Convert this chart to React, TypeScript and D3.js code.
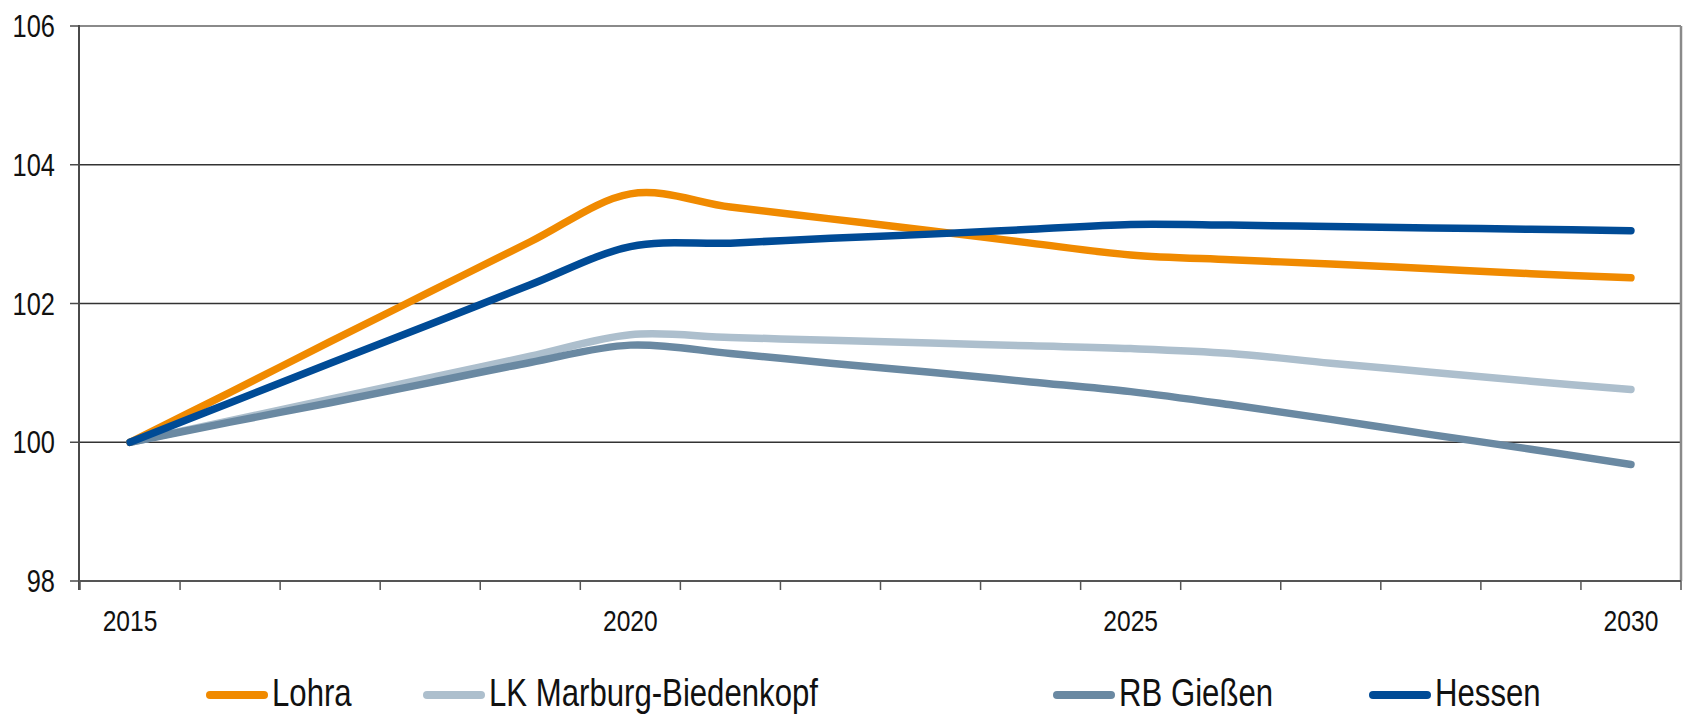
import React from 'react';
import * as d3 from 'd3';

// years on the category axis (one band per year)
const years = d3.range(2015, 2031);
const labelYears = [2015, 2020, 2025, 2030];
const yTicks = [98, 100, 102, 104, 106];

// index values (2015 = 100)
const lohra = [100, 100.72, 101.45, 102.17, 102.89, 103.58, 103.39, 103.22, 103.05, 102.87, 102.7, 102.63, 102.57, 102.5, 102.43, 102.37];
const marburg = [100, 100.31, 100.62, 100.93, 101.24, 101.55, 101.51, 101.47, 101.43, 101.39, 101.35, 101.28, 101.14, 101.01, 100.88, 100.76];
const giessen = [100, 100.29, 100.57, 100.86, 101.15, 101.4, 101.28, 101.14, 101.01, 100.87, 100.73, 100.54, 100.33, 100.11, 99.9, 99.68];
const hessen = [100, 100.57, 101.14, 101.7, 102.27, 102.82, 102.87, 102.94, 103.0, 103.07, 103.14, 103.13, 103.11, 103.09, 103.07, 103.05];

const seriesNames = ['Lohra', 'LK Marburg-Biedenkopf', 'RB Gießen', 'Hessen'];
const seriesColors = ['#F08A00', '#ADBFCD', '#6A89A2', '#004B96'];
const seriesValues = [lohra, marburg, giessen, hessen];
// draw order: Hessen on top of Lohra as in the original
const drawOrder = [1, 2, 0, 3];
const legendTextX = [272, 489, 1119, 1435];

const W = 1684;
const H = 714;
const font = "'Liberation Sans', Arial, sans-serif";
const narrow = 0.82; // fake a narrow face

const NText: React.FC<{ x: number; y: number; size: number; anchor?: string; children: React.ReactNode }> =
  ({ x, y, size, anchor = 'start', children }) => (
    <text transform={`translate(${x},${y}) scale(${narrow},1)`} fontSize={size}
      textAnchor={anchor} fill="#111">{children}</text>
  );

const App: React.FC = () => {
  const x = d3.scaleBand<number>().domain(years).range([80, 1681]).paddingInner(0).paddingOuter(0);
  const y = d3.scaleLinear().domain([98, 106]).range([581, 26]);
  const cx = (yr: number) => (x(yr) as number) + x.bandwidth() / 2;

  const line = d3.line<[number, number]>()
    .x(d => cx(d[0]))
    .y(d => y(d[1]))
    .curve(d3.curveCardinal.tension(0));

  const boundaries = years.map(yr => x(yr) as number).concat([1681]);

  return (
    <svg width={W} height={H} style={{ position: 'absolute', left: 0, top: 0, background: '#fff' }}
      fontFamily={font}>
      {/* gridlines */}
      {yTicks.filter(t => t > 98 && t < 106).map(t => (
        <line key={t} x1={80} x2={1681} y1={y(t)} y2={y(t)} stroke="#333" strokeWidth={1.3} />
      ))}
      {/* plot border top / right */}
      <line x1={80} x2={1681} y1={y(106)} y2={y(106)} stroke="#8a8a8a" strokeWidth={2} />
      <line x1={1681} x2={1681} y1={y(106)} y2={y(98)} stroke="#8a8a8a" strokeWidth={2.5} />

      {/* y axis */}
      <line x1={79} x2={79} y1={y(106) - 1} y2={y(98) + 9} stroke="#4a4a4a" strokeWidth={2} />
      {yTicks.map(t => (
        <g key={t}>
          <line x1={70} x2={79} y1={y(t)} y2={y(t)} stroke="#4a4a4a" strokeWidth={1.5} />
          <NText x={55} y={y(t) + 11} size={31} anchor="end">{t}</NText>
        </g>
      ))}

      {/* x axis */}
      <line x1={79} x2={1681} y1={y(98)} y2={y(98)} stroke="#555" strokeWidth={2} />
      {boundaries.map((b, i) => (
        <line key={i} x1={b} x2={b} y1={y(98)} y2={y(98) + 9} stroke="#555" strokeWidth={1.5} />
      ))}
      {labelYears.map(yr => (
        <NText key={yr} x={cx(yr)} y={631} size={30} anchor="middle">{yr}</NText>
      ))}

      {/* series */}
      {drawOrder.map(i => (
        <path key={i}
          d={line(years.map((yr, j) => [yr, seriesValues[i][j]] as [number, number])) || ''}
          fill="none" stroke={seriesColors[i]} strokeWidth={7.5}
          strokeLinecap="round" strokeLinejoin="round" />
      ))}

      {/* legend */}
      {seriesNames.map((name, i) => (
        <g key={name}>
          <line x1={legendTextX[i] - 62} x2={legendTextX[i] - 8} y1={695} y2={695}
            stroke={seriesColors[i]} strokeWidth={8} strokeLinecap="round" />
          <NText x={legendTextX[i]} y={706} size={38}>{name}</NText>
        </g>
      ))}
    </svg>
  );
};

export default App;
